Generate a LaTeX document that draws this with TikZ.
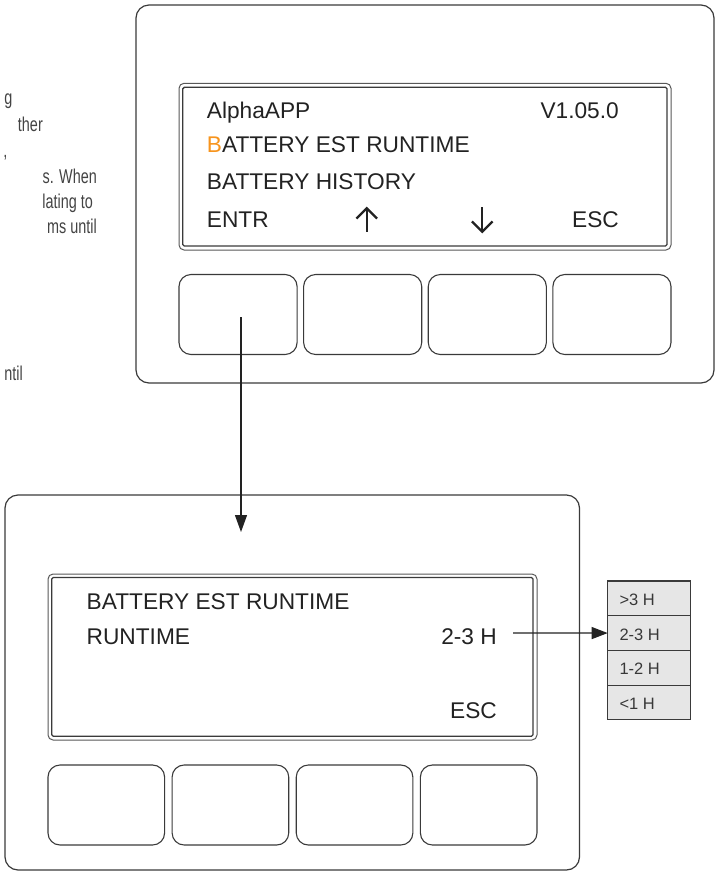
\documentclass[tikz,border=0pt]{standalone}
\usepackage{fontspec}
\usepackage{graphicx}
\setmainfont{Liberation Sans}
\usetikzlibrary{arrows.meta}
\definecolor{ink}{HTML}{222222}
\definecolor{edge}{HTML}{3A3A3A}
\definecolor{orng}{HTML}{F7941D}
\definecolor{listfill}{HTML}{E6E6E6}
\newcommand{\narrowtxt}[1]{\scalebox{0.72}[1]{#1}}
\begin{document}
\begin{tikzpicture}[x=1pt,y=-1pt,
  panel/.style={draw=edge, line width=1.2pt, rounded corners=13pt, inner sep=0pt, outer sep=0pt, anchor=north west},
  scrout/.style={draw=edge!85, line width=1pt, rounded corners=5pt, inner sep=0pt, outer sep=0pt, anchor=north west},
  scrin/.style={draw=edge, line width=1.3pt, rounded corners=1.5pt, inner sep=0pt, outer sep=0pt, anchor=north west},
  btn/.style={draw=edge, line width=1.1pt, rounded corners=12pt, inner sep=0pt, outer sep=0pt, anchor=north west, minimum height=80pt},
  lcd/.style={font=\fontsize{22.7}{26}\selectfont, text=ink, inner sep=0pt},
  side/.style={font=\fontsize{20}{23}\selectfont, text=ink!85, inner sep=0pt, anchor=base east},
  lst/.style={draw=edge, line width=1.1pt, fill=listfill, minimum width=83pt, minimum height=34.7pt, inner sep=0pt, outer sep=0pt, anchor=north west},
  lsttxt/.style={font=\fontsize{16.5}{19}\selectfont, text=ink!90, inner sep=0pt, anchor=base west},
  arr/.style={draw=ink, line width=1.2pt, -{Triangle[length=17pt,width=12pt]}},
  symb/.style={draw=ink, line width=2.3pt, line cap=butt, line join=miter},
]
\useasboundingbox (0,0) rectangle (716,871);
\clip (0,0) rectangle (716,871);

% left text fragments (cut off by the page edge)
\node[side] (f1) at (12.7,104) {\narrowtxt{g}};
\node[side] (f2) at (43,131.5) {\narrowtxt{ther}};
\node[side] (f3) at (7.5,157) {\narrowtxt{,}};
\node[side] (f4) at (97,183) {\narrowtxt{s. When}};
\node[side] (f5) at (93,208) {\narrowtxt{lating to}};
\node[side] (f6) at (97,233.5) {\narrowtxt{ms until}};
\node[side] (f7) at (23,380) {\narrowtxt{ntil}};

% top panel
\node[panel, minimum width=578pt, minimum height=378pt] (top) at (136,5) {};
\node[scrout, minimum width=492pt, minimum height=166.7pt] (tso) at (179,83.3) {};
\node[scrin, minimum width=484.2pt, minimum height=158.7pt] (tsi) at (182.8,87.3) {};
\foreach \i in {0,1,2,3}{
  \node[btn, minimum width=118.1pt] (tb\i) at ({179+\i*124.63},274.5) {};
}
\node[lcd, anchor=base west] (t1) at (206.7,118) {AlphaAPP};
\node[lcd, anchor=base east] (t2) at (619,118) {V1.05.0};
\node[lcd, anchor=base west] (t3) at (206.7,152) {\textcolor{orng}{B}ATTERY EST RUNTIME};
\node[lcd, anchor=base west] (t4) at (206.7,189) {BATTERY HISTORY};
\node[lcd, anchor=base west] (t5) at (206.7,227) {ENTR};
\node[lcd, anchor=base east] (t8) at (619,227) {ESC};
% up / down arrow symbols
\draw[symb] (366.7,231.7) -- (366.7,209.5);
\draw[symb] (356.4,218.6) -- (366.7,208.3) -- (377,218.6);
\draw[symb] (482.3,207) -- (482.3,230.5);
\draw[symb] (472,221.4) -- (482.3,231.7) -- (492.6,221.4);

% bottom panel
\node[panel, minimum width=574.5pt, minimum height=375pt] (bot) at (5,495) {};
\node[scrout, minimum width=489pt, minimum height=166pt] (bso) at (48,574) {};
\node[scrin, minimum width=481.2pt, minimum height=158.8pt] (bsi) at (51.8,577.5) {};
\foreach \i in {0,1,2,3}{
  \node[btn, minimum width=116.6pt] (bb\i) at ({48+\i*124.13},765) {};
}
\node[lcd, anchor=base west] (b1) at (86.5,609) {BATTERY EST RUNTIME};
\node[lcd, anchor=base west] (b2) at (86.5,644) {RUNTIME};
\node[lcd, anchor=base east] (b3) at (497,644) {2-3 H};
\node[lcd, anchor=base east] (b4) at (497,718) {ESC};

% list
\node[lst] (r1) at (607.7,581) {};
\node[lst] (r2) at (607.7,615.7) {};
\node[lst] (r3) at (607.7,650.4) {};
\node[lst] (r4) at (607.7,685.1) {};
\node[lsttxt] (l1) at (619.3,605.5) {>3 H};
\node[lsttxt] (l2) at (619.3,640.2) {2-3 H};
\node[lsttxt] (l3) at (619.3,674.9) {1-2 H};
\node[lsttxt] (l4) at (619.3,709.6) {<1 H};

% connectors
\coordinate (a1) at (241,317);
\coordinate (a2) at (241,532);
\draw[arr] (a1) -- (a2);
\coordinate (h1) at (513,633.05);
\draw[arr, -{Triangle[length=16pt,width=12pt]}] (h1) -- (r2.west);
\end{tikzpicture}
\end{document}
